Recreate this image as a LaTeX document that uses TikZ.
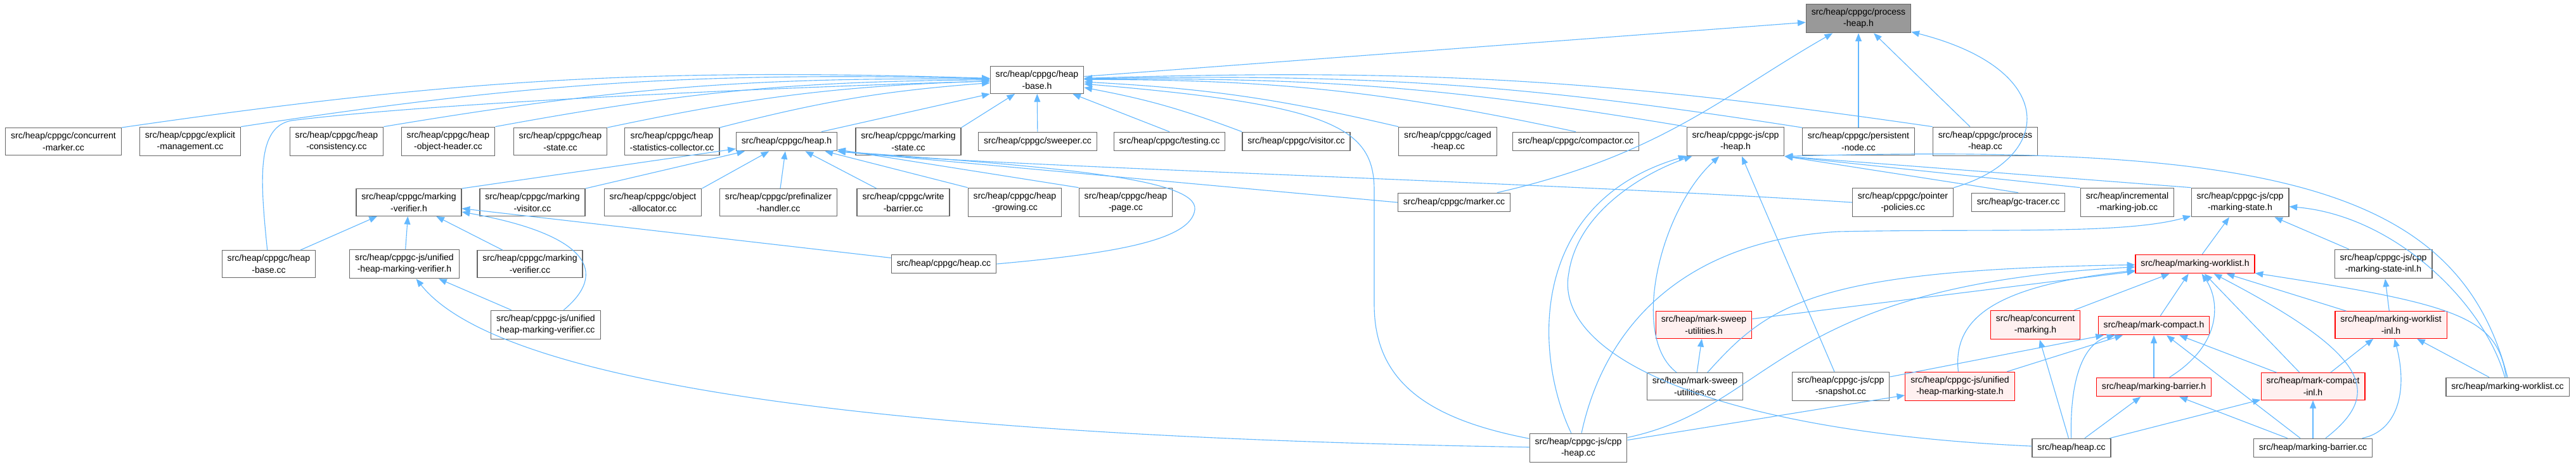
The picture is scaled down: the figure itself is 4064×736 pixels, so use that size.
\documentclass[tikz,border=0pt]{standalone}
\usepackage{fontspec}
\setmainfont{Liberation Sans}
\usetikzlibrary{arrows.meta}
\definecolor{edgeblue}{HTML}{63B8FF}
\definecolor{boxgray}{HTML}{666666}
\definecolor{rootgray}{HTML}{999999}
\definecolor{redfill}{HTML}{FFF0F0}
\tikzset{
  file/.style={draw=boxgray,fill=white,line width=0.9pt,align=center,inner xsep=6pt,inner ysep=5pt,minimum height=21pt,font=\fontsize{10}{13}\selectfont},
  rootfile/.style={file,fill=rootgray},
  redfile/.style={file,draw=red,fill=redfill},
  edge/.style={draw=edgeblue,line width=0.8pt,-{Triangle[length=9pt,width=7pt]}}
}
\begin{document}
\begin{tikzpicture}[x=0.025cm,y=-0.025cm]
\useasboundingbox (0,0) rectangle (4064,736);
\node[rootfile] (root) at (2932,29) {src/heap/cppgc/process\\-heap.h};
\node[file] (hbh) at (1636,126) {src/heap/cppgc/heap\\-base.h};
\foreach \n/\x/\txt in {cmk/100/{src/heap/cppgc/concurrent\\-marker.cc},exm/300/{src/heap/cppgc/explicit\\-management.cc},hcs/531/{src/heap/cppgc/heap\\-consistency.cc},hoh/707/{src/heap/cppgc/heap\\-object-header.cc},hst/884/{src/heap/cppgc/heap\\-state.cc},hsc/1060/{src/heap/cppgc/heap\\-statistics-collector.cc},hh/1241/{src/heap/cppgc/heap.h},mst/1433/{src/heap/cppgc/marking\\-state.cc},swp/1637/{src/heap/cppgc/sweeper.cc},tst/1845/{src/heap/cppgc/testing.cc},vis/2045/{src/heap/cppgc/visitor.cc},cgh/2284/{src/heap/cppgc/caged\\-heap.cc},cpt/2486/{src/heap/cppgc/compactor.cc},cjh/2738/{src/heap/cppgc-js/cpp\\-heap.h},pnd/2932/{src/heap/cppgc/persistent\\-node.cc},phc/3132/{src/heap/cppgc/process\\-heap.cc}} {
  \node[file] (\n) at (\x,223) {\txt};
}
\foreach \n/\x/\txt in {mvh/645/{src/heap/cppgc/marking\\-verifier.h},mvc/840/{src/heap/cppgc/marking\\-visitor.cc},oal/1030/{src/heap/cppgc/object\\-allocator.cc},pfh/1228/{src/heap/cppgc/prefinalizer\\-handler.cc},wbr/1425/{src/heap/cppgc/write\\-barrier.cc},hgr/1601/{src/heap/cppgc/heap\\-growing.cc},hpg/1776/{src/heap/cppgc/heap\\-page.cc},mkr/2294/{src/heap/cppgc/marker.cc},ppl/3002/{src/heap/cppgc/pointer\\-policies.cc},gct/3184/{src/heap/gc-tracer.cc},imj/3356/{src/heap/incremental\\-marking-job.cc},cms/3534/{src/heap/cppgc-js/cpp\\-marking-state.h}} {
  \node[file] (\n) at (\x,319) {\txt};
}
\node[file] (hbc) at (424,416) {src/heap/cppgc/heap\\-base.cc};
\node[file] (uvh) at (638,416) {src/heap/cppgc-js/unified\\-heap-marking-verifier.h};
\node[file] (mvf) at (836,416) {src/heap/cppgc/marking\\-verifier.cc};
\node[file] (hcc) at (1489,416) {src/heap/cppgc/heap.cc};
\node[redfile] (mwh) at (3463,416) {src/heap/marking-worklist.h};
\node[file] (cmi) at (3760,416) {src/heap/cppgc-js/cpp\\-marking-state-inl.h};
\node[file] (uvc) at (861,512) {src/heap/cppgc-js/unified\\-heap-marking-verifier.cc};
\node[redfile] (msh) at (2688,512) {src/heap/mark-sweep\\-utilities.h};
\node[redfile] (ccm) at (3211,512) {src/heap/concurrent\\-marking.h};
\node[redfile] (mch) at (3398,513) {src/heap/mark-compact.h};
\node[redfile] (mwi) at (3772,512) {src/heap/marking-worklist\\-inl.h};
\node[file] (msc) at (2674,609) {src/heap/mark-sweep\\-utilities.cc};
\node[file] (csn) at (2904,609) {src/heap/cppgc-js/cpp\\-snapshot.cc};
\node[redfile] (uhs) at (3092,609) {src/heap/cppgc-js/unified\\-heap-marking-state.h};
\node[redfile] (mbh) at (3398,610) {src/heap/marking-barrier.h};
\node[redfile] (mci) at (3649,609) {src/heap/mark-compact\\-inl.h};
\node[file] (mwc) at (3956,610) {src/heap/marking-worklist.cc};
\node[file] (cjc) at (2490,706) {src/heap/cppgc-js/cpp\\-heap.cc};
\node[file] (hpc) at (3268,706) {src/heap/heap.cc};
\node[file] (mbc) at (3649,706) {src/heap/marking-barrier.cc};
% includes of heap-base.h from the row below
\foreach \a in {cmk,exm,hcs,hoh,hst,hsc} {
  \draw[edge] (\a.north east) to[bend left=5] (hbh);
}
\foreach \a in {vis,cgh,cjh,pnd,phc} {
  \draw[edge] (\a.north west) to[bend right=5] (hbh);
}
\draw[edge] (cpt.north) to[bend right=6] (hbh);
\draw[edge] ([xshift=-18pt]hh.north east) -- (hbh.south west);
% straight includes
\foreach \a/\b in {hbh/root,pnd/root,phc/root,mst.north east/hbh,swp/hbh,tst.north/hbh,mvh.north east/hh,mvc.north east/hh,oal.north east/hh,pfh/hh,wbr/hh,hgr.north west/hh,hpg.north west/hh,mkr.west/hh.south east,hbc/mvh,uvh/mvh,mvf/mvh,hcc/mvh,uvc/uvh,csn/cjh,gct.north/cjh.south east,imj.north west/cjh.south east,cms.north west/cjh.south east,mwh/cms,cmi/cms,mwi/cmi,msh/mwh,ccm/mwh,mch/mwh,mci/mwh,mwi/mwh,msc/msh,hpc/ccm,csn/mch,uhs/mch,mbh/mch,mci/mch,mbc/mch,mci/mwi,mwc/mwi,cjc/uhs,hpc/mbh,mbc/mbh,hpc/mci,mbc/mci} {
  \draw[edge] (\a) -- (\b);
}
% curved includes
\draw[edge] (mkr) .. controls (2620,245) and (2720,150) .. (root);
\draw[edge] (ppl) .. controls (3240,250) and (3250,110) .. (root);
\draw[edge] (ppl.west) .. controls (2400,285) and (1550,262) .. (hh.south east);
\draw[edge] (hbc) .. controls (410,280) and (405,200) .. (460,190) .. controls (700,160) and (1300,135) .. (hbh);
\draw[edge] (cjc) .. controls (2250,660) and (2168,600) .. (2168,480) -- (2168,300) .. controls (2168,200) and (2100,165) .. (hbh);
\draw[edge] (hcc.east) .. controls (1750,400) and (1880,380) .. (1885,330) .. controls (1890,280) and (1650,262) .. (hh.south east);
\draw[edge] (uvc) .. controls (960,430) and (930,370) .. (mvh);
\draw[edge] (cjc) .. controls (1500,690) and (800,620) .. (uvh);
\draw[edge] (cjc) .. controls (2420,560) and (2410,320) .. (cjh);
\draw[edge] (hpc) .. controls (2700,680) and (2450,560) .. (2475,430) .. controls (2490,330) and (2600,270) .. (cjh);
\draw[edge] (msc) .. controls (2570,530) and (2620,330) .. (cjh);
\draw[edge] (mwc.north) .. controls (3880,300) and (3600,225) .. (cjh.south east);
\draw[edge] (mwc) .. controls (3920,480) and (3780,340) .. (cms);
\draw[edge] (cjc) .. controls (2530,520) and (2650,380) .. (2900,365) .. controls (3150,360) and (3350,370) .. (cms);
\draw[edge] (msc) .. controls (2790,480) and (2860,425) .. (mwh);
\draw[edge] (cjc) .. controls (2800,640) and (2800,450) .. (mwh);
\draw[edge] (uhs) .. controls (3080,500) and (3150,450) .. (mwh);
\draw[edge] (mbh) .. controls (3510,540) and (3500,470) .. (mwh);
\draw[edge] (mbc) .. controls (3760,620) and (3740,560) .. (mwh);
\draw[edge] (mwc) .. controls (3940,500) and (3880,480) .. (mwh);
\draw[edge] (hpc) .. controls (3265,590) and (3290,540) .. (mch);
\draw[edge] (mbc) .. controls (3780,680) and (3800,620) .. (mwi);
\end{tikzpicture}
\end{document}
